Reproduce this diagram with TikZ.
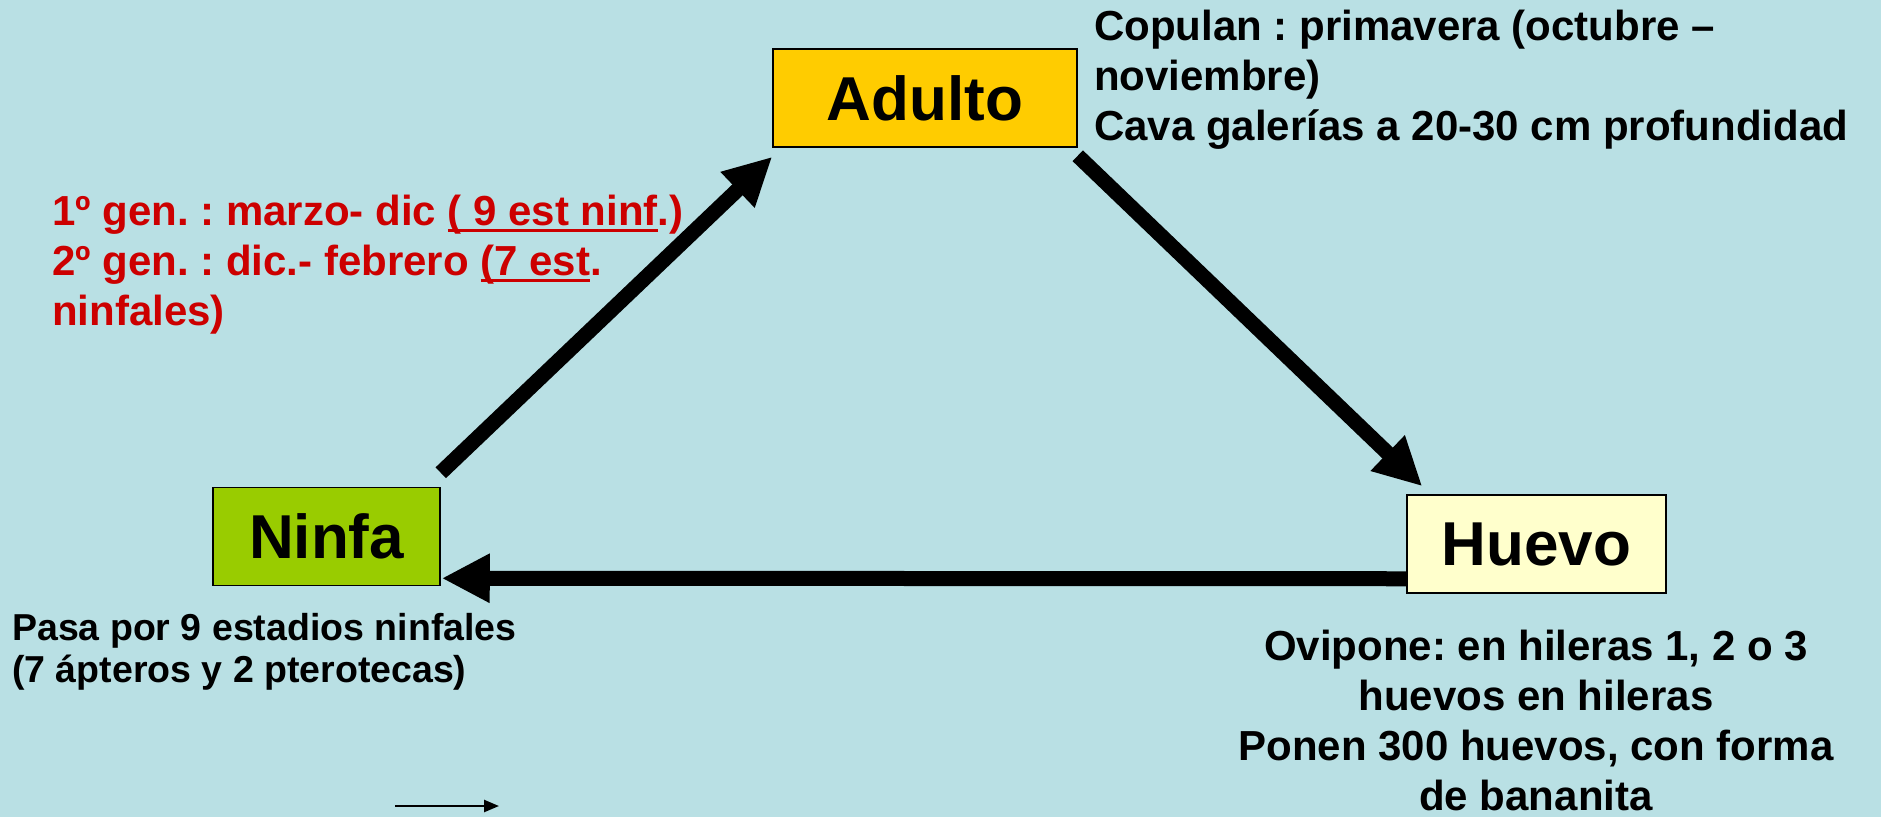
\documentclass[tikz,border=0pt]{standalone}
\usepackage{fontspec}
\setmainfont{Liberation Sans}
\usetikzlibrary{arrows.meta,calc}
\definecolor{bgblue}{HTML}{B9E0E4}
\definecolor{adultfill}{HTML}{FFCC00}
\definecolor{nymphfill}{HTML}{99CC00}
\definecolor{eggfill}{HTML}{FFFFCC}
\definecolor{notered}{HTML}{CC0000}
% underline at a fixed depth below the baseline
\newcommand\redline[1]{\setbox0=\hbox{#1}\rlap{\rule[-7pt]{\wd0}{3pt}}\box0}
\frenchspacing
\begin{document}
\begin{tikzpicture}[x=1pt,y=-1pt,
  stage/.style={draw=black, line width=1.5pt, minimum height=98pt, inner sep=0pt,
    font=\fontsize{62}{70}\selectfont\bfseries},
  cycle/.style={line width=15pt, -{Triangle[length=48pt,width=46pt]}},
  note/.style={inner sep=0pt, font=\fontsize{42}{50}\selectfont\bfseries},
]
\fill[bgblue] (0,0) rectangle (1881,817);
\useasboundingbox (0,0) rectangle (1881,817);

% life stages
\node[stage, fill=adultfill, minimum width=304pt] (adulto) at (925,98) {Adulto};
\node[stage, fill=nymphfill, minimum width=227pt] (ninfa) at (326.5,536.5) {Ninfa};
\node[stage, fill=eggfill, minimum width=259pt] (huevo) at (1536.5,544) {Huevo};

% cycle arrows
\draw[cycle] ($(ninfa.north east)+(0,-14)$) -- ($(adulto.south west)+(0,9)$);
\draw[cycle] ($(adulto.south east)+(0,8)$) -- ($(huevo.north west)+(16,-8)$);
\draw[cycle] ($(huevo.south west)+(0,-15)$) -- ($(ninfa.south east)+(1,-8)$);

% notes (anchored at the baseline of their last line)
\node[note, anchor=base west, align=left] (mating) at (1094,140)
  {Copulan : primavera (octubre –\\noviembre)\\Cava galerías a 20-30 cm profundidad};
\node[note, text=notered, anchor=base west, align=left] (generations) at (52,325)
  {1º gen. : marzo- dic \redline{( 9 est ninf}.)\\2º gen. : dic.- febrero \redline{(7 est}.\\ninfales)};
\node[note, anchor=base west, align=left, font=\fontsize{37.5}{42}\selectfont\bfseries] (stages) at (12,682)
  {Pasa por 9 estadios ninfales\\(7 ápteros y 2 pterotecas)};
\node[note, anchor=base, align=center] (eggs) at (1536,810)
  {Ovipone: en hileras 1, 2 o 3\\huevos en hileras\\Ponen 300 huevos, con forma\\de bananita};

% small arrow at the bottom
\coordinate (keytail) at (395,806);
\coordinate (keyhead) at (499,806);
\draw[line width=2.5pt, -{Triangle[length=15pt,width=12pt]}] (keytail) -- (keyhead);
\end{tikzpicture}
\end{document}
